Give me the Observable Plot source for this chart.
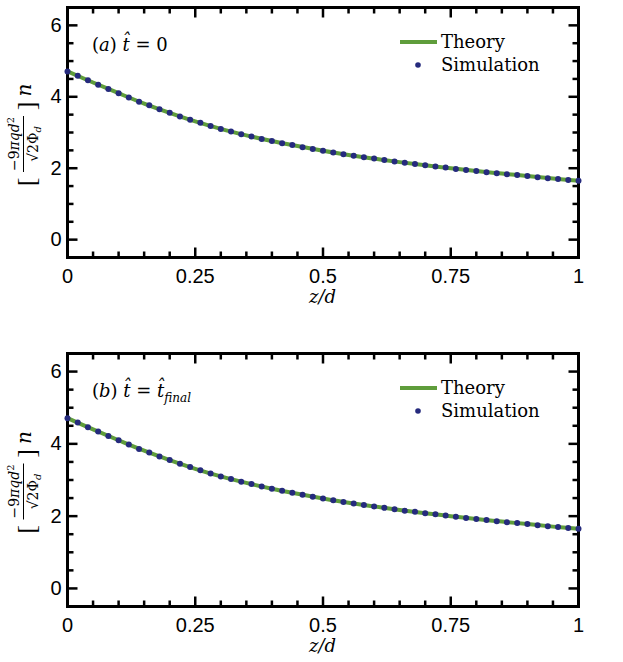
<!DOCTYPE html>
<html>
<head>
<meta charset="utf-8">
<script src="https://cdn.jsdelivr.net/npm/d3@7"></script>
<script src="https://cdn.jsdelivr.net/npm/@observablehq/plot@0.6"></script>
<style>
  body { margin: 0; background: #fff; }
  svg { display: block; }
</style>
</head>
<body>
<div id="chart"></div>
<script>
// ---- Data ----
const theoryZ = [0, 0.05, 0.1, 0.15, 0.2, 0.25, 0.3, 0.35, 0.4, 0.45, 0.5, 0.55, 0.6, 0.65, 0.7, 0.75, 0.8, 0.85, 0.9, 0.95, 1.0];
const theoryN = [4.71, 4.40, 4.10, 3.81, 3.55, 3.31, 3.10, 2.92, 2.76, 2.62, 2.49, 2.37, 2.27, 2.17, 2.08, 2.00, 1.92, 1.85, 1.78, 1.71, 1.65];

const simZ = [0, 0.02, 0.04, 0.06, 0.08, 0.10, 0.12, 0.14, 0.16, 0.18, 0.20, 0.22, 0.24, 0.26, 0.28, 0.30, 0.32, 0.34, 0.36, 0.38, 0.40, 0.42, 0.44, 0.46, 0.48, 0.50, 0.52, 0.54, 0.56, 0.58, 0.60, 0.62, 0.64, 0.66, 0.68, 0.70, 0.72, 0.74, 0.76, 0.78, 0.80, 0.82, 0.84, 0.86, 0.88, 0.90, 0.92, 0.94, 0.96, 0.98, 1.00];
const simN = [4.71, 4.59, 4.46, 4.34, 4.22, 4.10, 3.98, 3.86, 3.76, 3.65, 3.55, 3.45, 3.36, 3.27, 3.18, 3.10, 3.03, 2.95, 2.89, 2.82, 2.76, 2.70, 2.65, 2.59, 2.54, 2.49, 2.44, 2.39, 2.35, 2.31, 2.27, 2.23, 2.19, 2.15, 2.12, 2.08, 2.05, 2.02, 1.98, 1.95, 1.92, 1.89, 1.86, 1.83, 1.81, 1.78, 1.75, 1.72, 1.70, 1.67, 1.65];

const xTickValues = [0, 0.25, 0.5, 0.75, 1];
const xTickLabels = ["0", "0.25", "0.5", "0.75", "1"];
const xMinorTicks = [0.05, 0.1, 0.15, 0.2, 0.3, 0.35, 0.4, 0.45, 0.55, 0.6, 0.65, 0.7, 0.8, 0.85, 0.9, 0.95];
const xMajorInner = [0.25, 0.5, 0.75];
const yTickValues = [0, 2, 4, 6];
const yTickLabels = ["0", "2", "4", "6"];
const yMinorTicks = [0.5, 1, 1.5, 2.5, 3, 3.5, 4.5, 5, 5.5];
const xDomain = [0, 1];
const yDomain = [-0.5, 6.5];

const seriesNames = ["Theory", "Simulation"];
const panelTags = ["a", "b"];

const theory = theoryZ.map((z, i) => ({z, n: theoryN[i]}));
const sim = simZ.map((z, i) => ({z, n: simN[i]}));

const GREEN = "#5f9d3b";
const NAVY = "#252a7d";
const SERIF = "'DejaVu Serif', serif";

function makePanel(tag, mt, mb) {
  const W = 623, H = 331, ml = 67, mr = 45;
  const pw = W - ml - mr, ph = H - mt - mb;
  const MAJ = 10, MIN = 6, TW = 2.5;
  const ky = (yDomain[1] - yDomain[0]) / ph;
  const kx = (xDomain[1] - xDomain[0]) / pw;
  const y0 = yDomain[0], y1 = yDomain[1], x0 = xDomain[0], x1 = xDomain[1];
  // inward tick segments built from the tick-value arrays
  const segs = [];
  for (const v of xMinorTicks) { segs.push({xa: v, xb: v, ya: y0, yb: y0 + MIN * ky}); segs.push({xa: v, xb: v, ya: y1, yb: y1 - MIN * ky}); }
  for (const v of xMajorInner) { segs.push({xa: v, xb: v, ya: y0, yb: y0 + MAJ * ky}); segs.push({xa: v, xb: v, ya: y1, yb: y1 - MAJ * ky}); }
  for (const v of yMinorTicks) { segs.push({xa: x0, xb: x0 + MIN * kx, ya: v, yb: v}); segs.push({xa: x1, xb: x1 - MIN * kx, ya: v, yb: v}); }
  for (const v of yTickValues) { segs.push({xa: x0, xb: x0 + MAJ * kx, ya: v, yb: v}); segs.push({xa: x1, xb: x1 - MAJ * kx, ya: v, yb: v}); }

  const svg = Plot.plot({
    width: W, height: H,
    marginLeft: ml, marginRight: mr, marginTop: mt, marginBottom: mb,
    style: {fontFamily: "'Liberation Sans', Arial, sans-serif", fontSize: "20px", color: "#000", background: "#fff", overflow: "visible"},
    x: {domain: xDomain, ticks: xTickValues, tickFormat: d => xTickLabels[xTickValues.indexOf(d)], tickSize: 0, tickPadding: 11, label: null},
    y: {domain: yDomain, ticks: yTickValues, tickFormat: d => yTickLabels[yTickValues.indexOf(d)], tickSize: 0, tickPadding: 6, label: null},
    marks: [
      Plot.frame({stroke: "#000", strokeWidth: 3, fill: "none"}),
      Plot.link(segs, {x1: "xa", y1: "ya", x2: "xb", y2: "yb", stroke: "#000", strokeWidth: TW}),
      Plot.line(theory, {x: "z", y: "n", stroke: GREEN, strokeWidth: 4, curve: "catmull-rom"}),
      Plot.dot(sim, {x: "z", y: "n", r: 3, fill: NAVY, stroke: "none"})
    ]
  });

  const s = d3.select(svg);

  // Panel annotation
  const ann = s.append("text").attr("x", ml + 25).attr("y", mt + 44).attr("text-anchor", "start")
    .attr("font-family", SERIF).attr("font-size", 18).attr("fill", "#000");
  ann.append("tspan").text("(");
  ann.append("tspan").attr("font-style", "italic").text(tag);
  ann.append("tspan").text(") ");
  ann.append("tspan").attr("font-style", "italic").text("t\u0302");
  ann.append("tspan").text(" = ");
  if (tag === "a") {
    ann.append("tspan").text("0");
  } else {
    ann.append("tspan").attr("font-style", "italic").text("t\u0302");
    ann.append("tspan").attr("font-style", "italic").attr("font-size", 12).attr("dy", 5).text("final");
  }

  // Legend
  const lx = 400, ly1 = mt + 35, ly2 = mt + 58;
  s.append("line").attr("x1", lx).attr("x2", lx + 37).attr("y1", ly1).attr("y2", ly1)
    .attr("stroke", GREEN).attr("stroke-width", 4);
  s.append("text").attr("x", lx + 41).attr("y", ly1 + 6).attr("text-anchor", "start").attr("font-family", SERIF)
    .attr("font-size", 18).attr("fill", "#000").text(seriesNames[0]);
  s.append("circle").attr("cx", lx + 18).attr("cy", ly2).attr("r", 2.8).attr("fill", NAVY);
  s.append("text").attr("x", lx + 41).attr("y", ly2 + 6).attr("text-anchor", "start").attr("font-family", SERIF)
    .attr("font-size", 18).attr("fill", "#000").text(seriesNames[1]);

  // x-axis label z/d
  s.append("text").attr("x", ml + pw / 2).attr("y", mt + ph + 46).attr("text-anchor", "middle")
    .attr("font-family", SERIF).attr("font-style", "italic").attr("font-size", 18).attr("fill", "#000")
    .text("z/d");

  // y-axis label: [ (−9πqd²)/(√2Φ_d) ] n
  const g = s.append("g").attr("transform", `translate(25, ${mt + ph / 2 + 2}) rotate(-90)`)
    .attr("font-family", SERIF).attr("fill", "#000");
  g.append("text").attr("x", -48).attr("y", 10).attr("text-anchor", "middle").attr("font-size", 26).attr("font-family", "'Liberation Serif', serif").text("[");
  const num = g.append("text").attr("x", -10).attr("y", -6).attr("text-anchor", "middle").attr("font-size", 14);
  num.append("tspan").text("\u22129");
  num.append("tspan").attr("font-style", "italic").text("\u03C0qd");
  num.append("tspan").attr("font-size", 10).attr("dy", -5).text("2");
  g.append("line").attr("x1", -38).attr("x2", 18).attr("y1", -1.5).attr("y2", -1.5).attr("stroke", "#000").attr("stroke-width", 1);
  const den = g.append("text").attr("x", -10).attr("y", 13).attr("text-anchor", "middle").attr("font-size", 14);
  den.append("tspan").text("\u221A2\u03A6");
  den.append("tspan").attr("font-style", "italic").attr("font-size", 10).attr("dy", 3).text("d");
  g.append("text").attr("x", 28).attr("y", 10).attr("text-anchor", "middle").attr("font-size", 26).attr("font-family", "'Liberation Serif', serif").text("]");
  g.append("text").attr("x", 44).attr("y", 6).attr("text-anchor", "middle").attr("font-size", 20).attr("font-style", "italic").text("n");

  return svg;
}

const root = document.getElementById("chart");
root.appendChild(makePanel(panelTags[0], 7, 74));
root.appendChild(makePanel(panelTags[1], 22, 56));
</script>
</body>
</html>
